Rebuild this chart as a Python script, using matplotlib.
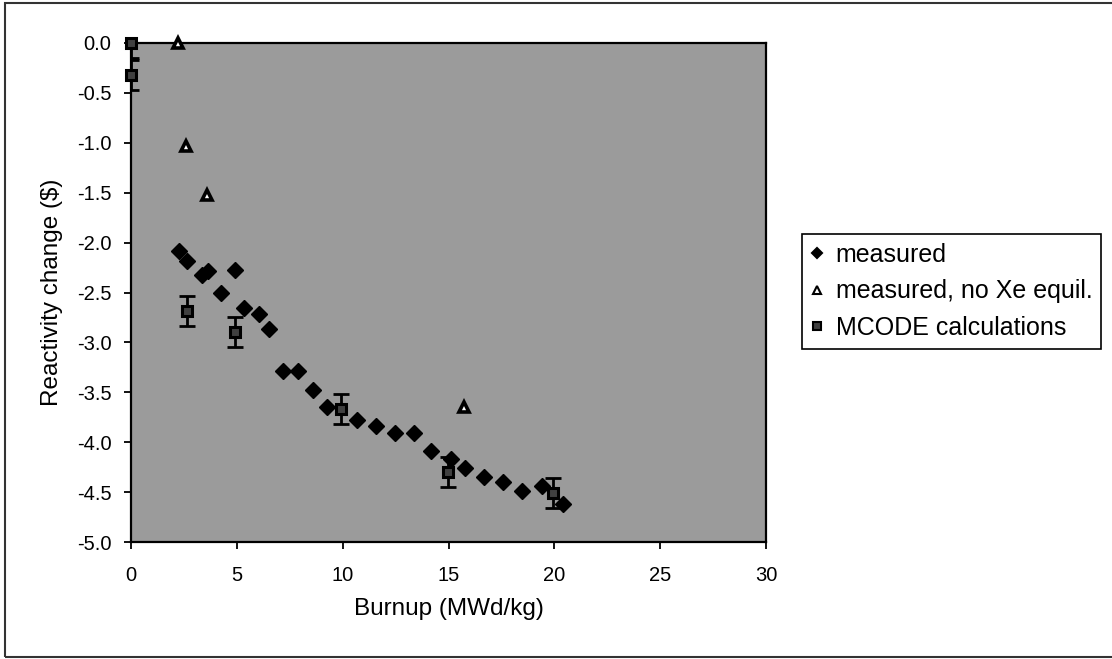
import matplotlib
matplotlib.use("Agg")
import matplotlib.pyplot as plt
from matplotlib.patches import Rectangle
from matplotlib.ticker import FormatStrFormatter, MultipleLocator

plt.rcParams['font.family'] = ['Liberation Sans', 'DejaVu Sans']
plt.rcParams['axes.unicode_minus'] = False

# measured
meas_x = [2.26, 2.63, 3.37, 3.65, 4.23, 4.91, 5.36, 6.04, 6.52, 7.20, 7.88, 8.60,
          9.28, 10.66, 11.56, 12.49, 13.38, 14.15, 15.10, 15.76, 16.66, 17.56,
          18.46, 19.43, 20.39]
meas_y = [-2.08, -2.18, -2.32, -2.28, -2.50, -2.27, -2.66, -2.72, -2.87, -3.29, -3.29,
          -3.48, -3.65, -3.78, -3.84, -3.91, -3.91, -4.09, -4.17, -4.26, -4.35, -4.40,
          -4.49, -4.44, -4.62]
# measured, no Xe equilibrium
noxe_x = [2.23, 2.59, 3.60, 15.72]
noxe_y = [0.0, -1.03, -1.52, -3.65]
# MCODE calculations
mc_x = [0.0, 0.0, 2.63, 4.93, 9.90, 14.98, 19.95]
mc_y = [0.0, -0.32, -2.69, -2.90, -3.67, -4.30, -4.51]
mc_err = [0.15, 0.15, 0.15, 0.15, 0.15, 0.15, 0.15]

W, H = 1112, 659
fig = plt.figure(figsize=(W / 100, H / 100), dpi=100)
ax = fig.add_axes([131 / W, 1 - 542 / H, (766 - 131) / W, (542 - 43) / H])
ax.set_facecolor('#9b9b9b')

ax.errorbar(mc_x, mc_y, yerr=mc_err, fmt='none', ecolor='black', elinewidth=2,
            capsize=6, capthick=2, zorder=3)
ax.plot(meas_x, meas_y, 'D', color='black', ms=8, ls='none', label='measured',
        zorder=4, clip_on=False)
ax.plot(noxe_x, noxe_y, '^', mfc='white', mec='black', mew=2.6, ms=7.5, ls='none',
        label='measured, no Xe equil.', zorder=4, clip_on=False)
ax.plot(mc_x, mc_y, 's', mfc='#404040', mec='black', mew=2.2, ms=7.5, ls='none',
        label='MCODE calculations', zorder=5, clip_on=False)

ax.set_xlim(0, 30)
ax.set_ylim(-5, 0)
ax.xaxis.set_major_locator(MultipleLocator(5))
ax.yaxis.set_major_locator(MultipleLocator(0.5))
ax.yaxis.set_major_formatter(FormatStrFormatter('%.1f'))
ax.xaxis.set_major_formatter(FormatStrFormatter('%d'))
ax.tick_params(axis='both', direction='out', length=5, width=1.3, labelsize=14.5,
               color='black')
ax.tick_params(axis='x', pad=12)
ax.tick_params(axis='y', pad=9)
for s in ax.spines.values():
    s.set_linewidth(1.6)
    s.set_color('black')

ax.set_xlabel('Burnup (MWd/kg)', fontsize=17.5, labelpad=10)
ax.set_ylabel('Reactivity change ($)', fontsize=17.5, labelpad=10)

leg = ax.legend(loc='upper left', bbox_to_anchor=(802 / W, 1 - 234 / H),
                bbox_transform=fig.transFigure, fontsize=18, frameon=True,
                fancybox=False, edgecolor='black', framealpha=1,
                handlelength=0.5, handletextpad=0.5, borderpad=0.35,
                labelspacing=0.5, borderaxespad=0, markerscale=0.7)
leg.get_frame().set_linewidth(1.2)
for h in leg.legend_handles:
    h.set_markeredgewidth(1.5)

fig.patches.append(Rectangle((5 / W, 2 / H), 1.2, 1 - 5 / H, transform=fig.transFigure,
                             fill=False, edgecolor='#333333', linewidth=1.5))

fig.savefig('out.png', dpi=100)
